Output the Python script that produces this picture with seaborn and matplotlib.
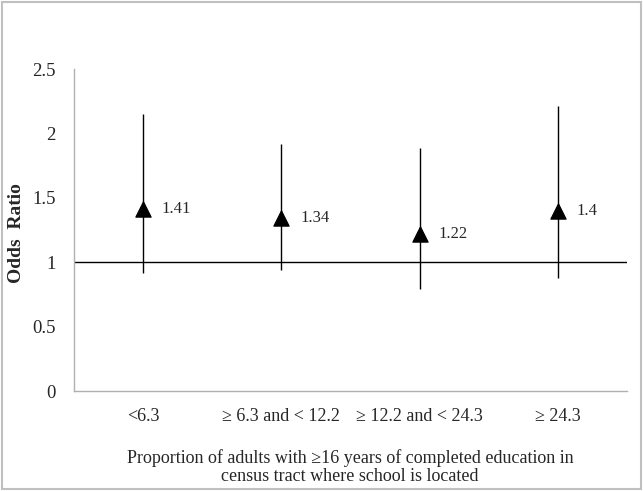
import numpy as np
import pandas as pd
import seaborn as sns
import matplotlib.pyplot as plt
from matplotlib.patches import Rectangle

# Data
categories = ['<6.3', '\u2265 6.3 and < 12.2', '\u2265 12.2 and < 24.3', '\u2265 24.3']
odds_ratio = [1.41, 1.34, 1.22, 1.40]
ci_low = [0.92, 0.94, 0.79, 0.88]
ci_high = [2.15, 1.92, 1.89, 2.21]
value_labels = ['1.41', '1.34', '1.22', '1.4']

df = pd.DataFrame({'category': categories, 'OR': odds_ratio,
                   'lo': ci_low, 'hi': ci_high})
df['pos'] = np.arange(len(df))

sns.set_style('white')
plt.rcParams['font.family'] = ['Liberation Serif', 'DejaVu Serif']

W, H = 643, 491
fig = plt.figure(figsize=(W / 100, H / 100), dpi=100)
ax = fig.add_axes([74 / W, 1 - 391 / H, 553 / W, 322 / H])

# Confidence intervals
ax.vlines(df['pos'], df['lo'], df['hi'], color='black', linewidth=1.0, zorder=2)
# Reference line at OR = 1
ax.axhline(1, color='black', linewidth=1.0, zorder=1)
# Point estimates
sns.scatterplot(data=df, x='pos', y='OR', marker='^', s=120, color='black',
                edgecolor='black', ax=ax, zorder=3, legend=False)
for _, r in df.iterrows():
    ax.text(r['pos'] + 0.135, r['OR'], value_labels[int(r['pos'])],
            fontsize=12, va='center', ha='left')

ax.set_xlim(-0.5, 3.5)
ax.set_ylim(0, 2.5)
ax.set_xticks(df['pos'])
ax.set_xticklabels(categories, fontsize=13)
ax.set_yticks([0, 0.5, 1, 1.5, 2, 2.5])
ax.set_yticklabels(['0', '0.5', '1', '1.5', '2', '2.5'], fontsize=13.5)
ax.tick_params(axis='both', length=0)
ax.tick_params(axis='x', pad=12)
ax.tick_params(axis='y', pad=13)
ax.set_xlabel('')
ax.set_ylabel('')
fig.text(17 / W, 1 - 233 / H, 'Odds  Ratio', rotation=90, fontsize=14,
         fontweight='bold', ha='center', va='center')

for side in ['top', 'right']:
    ax.spines[side].set_visible(False)
for side in ['left', 'bottom']:
    ax.spines[side].set_color('#b0b0b0')
    ax.spines[side].set_linewidth(1)

fig.text(350 / W, 1 - 467 / H,
         'Proportion of adults with \u226516 years of completed education in\n'
         'census tract where school is located',
         ha='center', va='center', fontsize=13, linespacing=1.12)

# Outer frame
fig.patches.append(Rectangle((1.5 / W, 1 - 489 / H), 639 / W, 487.5 / H,
                             transform=fig.transFigure, fill=False,
                             edgecolor='#c0c0c0', linewidth=1.5))

fig.savefig('out.png', dpi=100)
